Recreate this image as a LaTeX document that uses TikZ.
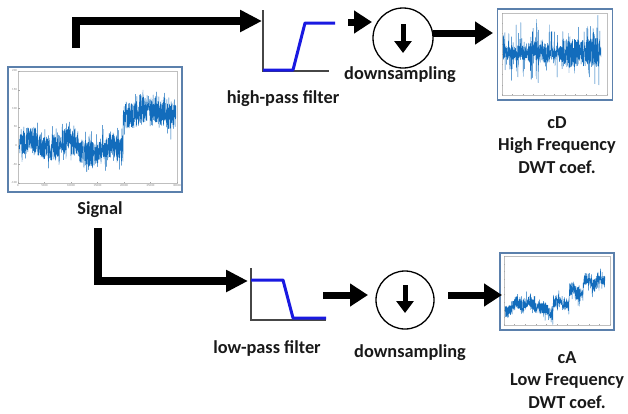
\documentclass[tikz,border=0pt]{standalone}
\usepackage{fontspec}
\setmainfont{Carlito}
\usetikzlibrary{arrows.meta,calc}
\definecolor{frameblue}{RGB}{91,128,172}
\definecolor{sigblue}{RGB}{18,108,188}
\definecolor{filtblue}{RGB}{25,25,225}
\definecolor{axgray}{RGB}{70,70,70}
\begin{document}
\begin{tikzpicture}[x=1pt,y=-1pt,
  declare function={
    levs(\t)=144+6*(\t>78)*(\t<123)-32*(\t>=123)+4*sin(\t*9);
    levd(\t)=53;
    leva(\t)=309-5*(\t>515)+6*(\t>540)-6*(\t>553)-12*(\t>569)-10*(\t>583)+3*sin(\t*25);
  }]
\tikzset{
 bigarrow/.style={line width=7.5pt, -{Triangle[length=22pt,width=21pt]}},
 smallarrow/.style={line width=7pt, -{Triangle[length=18pt,width=22pt]}},
 lbl/.style={font=\fontsize{18.3}{22.5}\selectfont\bfseries, text=black!90, align=center, inner sep=0},
 plotframe/.style={draw=frameblue, line width=1.6pt, fill=white, inner sep=0},
 axframe/.style={draw=black!25, line width=0.5pt},
 sig/.style={draw=sigblue, line width=0.45pt, line join=round},
 filtax/.style={draw=axgray, line width=2pt},
 filtline/.style={draw=filtblue, line width=3pt, line join=round},
 dscircle/.style={circle, draw=black, line width=1.3pt, minimum size=60pt, inner sep=0},
 dsarrow/.style={line width=5pt, -{Triangle[length=12pt,width=17pt]}},
 ticklbl/.style={font=\fontsize{3}{3}\selectfont, text=black!50, inner sep=0.5pt},
 tickmark/.style={draw=black!35, line width=0.3pt}
}
\useasboundingbox (0,0) rectangle (628,413);

% ---------- Signal plot ----------
\node[plotframe, minimum width=174pt, minimum height=125pt] (sig) at (95,129.5) {};
\draw[axframe] (18,71) rectangle (177,183);
\foreach \k/\v in {0/0,1/5000,2/10000,3/15000,4/20000,5/25000,6/30000}{
  \draw[tickmark] ({18+\k*26.5},183) -- ++(0,-1.5);
  \node[ticklbl, anchor=north] at ({18+\k*26.5},184) {\v};
}
\foreach \k/\v in {0/200,1/150,2/100,3/50,4/0,5/-50,6/-100}{
  \draw[tickmark] (18,{71+\k*18.67}) -- ++(1.5,0);
  \node[ticklbl, anchor=east] at (17.5,{71+\k*18.67}) {\v};
}
\pgfmathsetseed{12}
\draw[sig] plot[domain=19:176, samples=1100, variable=\t] (\t,{levs(\t)+13*rand+12*rand^5});
\node[lbl] (siglbl) at (100,210) {Signal};

% ---------- high-pass filter ----------
\node[inner sep=0, minimum width=72pt, minimum height=61pt] (hp) at (299,40.5) {};
\draw[filtax] (263,10) -- (263,71) -- (329,71);
\draw[filtline] (263,70) -- (293,70) -- (305,23) -- (335,23);
\node[lbl] (hplbl) at (283,99) {high-pass filter};

% ---------- downsampling (top) ----------
\node[dscircle] (ds1) at (403,38) {};
\draw[dsarrow] ($(ds1.center)+(0,-14)$) -- ($(ds1.center)+(0,15)$);
\node[lbl] (ds1lbl) at (400,75) {downsampling};

% ---------- cD plot ----------
\node[plotframe, minimum width=115pt, minimum height=91pt] (cD) at (555,54.5) {};
\draw[axframe] (502,13) rectangle (607,95);
\foreach \k in {0,...,10}{ \draw[tickmark] ({502+\k*10.5},95) -- ++(0,-1.2); }
\foreach \k in {0,...,8}{ \draw[tickmark] (502,{13+\k*10.25}) -- ++(1.2,0); }
\pgfmathsetmacro{\dummy}{0}
\pgfmathsetseed{5}
\draw[sig] plot[domain=503:601, samples=800, variable=\t] (\t,{levd(\t)+(7+7*(\t>562)*(\t<600)+3*(\t>528)*(\t<548))*rand+26*rand^9});
\node[lbl] (cDlbl) at (557,145) {cD\\High Frequency\\DWT coef.};

% ---------- low-pass filter ----------
\node[inner sep=0, minimum width=75pt, minimum height=52pt] (lp) at (288.5,294) {};
\draw[filtax] (251,268) -- (251,320) -- (326,320);
\draw[filtline] (251,280) -- (283,280) -- (293,318) -- (326,318);
\node[lbl] (lplbl) at (267,348) {low-pass filter};

% ---------- downsampling (bottom) ----------
\node[dscircle, minimum size=58pt] (ds2) at (405,300) {};
\draw[dsarrow] ($(ds2.center)+(0,-15)$) -- ($(ds2.center)+(0,13)$);
\node[lbl] (ds2lbl) at (410,353) {downsampling};

% ---------- cA plot ----------
\node[plotframe, minimum width=114pt, minimum height=77pt] (cA) at (557,291.5) {};
\draw[axframe] (504,256) rectangle (610,325);
\foreach \k in {0,...,10}{ \draw[tickmark] ({504+\k*10.6},325) -- ++(0,-1.2); }
\foreach \k in {0,...,9}{ \draw[tickmark] (504,{256+\k*7.67}) -- ++(1.2,0); }
\pgfmathsetseed{9}
\draw[sig] plot[domain=505:605, samples=700, variable=\t] (\t,{leva(\t)+6*rand+8*rand^5});
\node[lbl] (cAlbl) at (567,380) {cA\\Low Frequency\\DWT coef.};

% ---------- connectors ----------
\coordinate (s1) at (76,48);
\coordinate (hpin) at (262,21);
\draw[bigarrow] (s1) |- (hpin);
\coordinate (hpout) at (348,22);
\coordinate (ds1in) at (372,22);
\draw[smallarrow] (hpout) -- (ds1in);
\coordinate (ds1out) at (433,33);
\coordinate (cDin) at (493,33);
\draw[smallarrow] (ds1out) -- (cDin);

\coordinate (s2) at (98,228);
\coordinate (lpin) at (248,281);
\draw[bigarrow] (s2) |- (lpin);
\coordinate (lpout) at (323,295);
\coordinate (ds2in) at (368,295);
\draw[smallarrow] (lpout) -- (ds2in);
\coordinate (ds2out) at (448,295);
\coordinate (cAin) at (502,295);
\draw[smallarrow] (ds2out) -- (cAin);
\end{tikzpicture}
\end{document}
